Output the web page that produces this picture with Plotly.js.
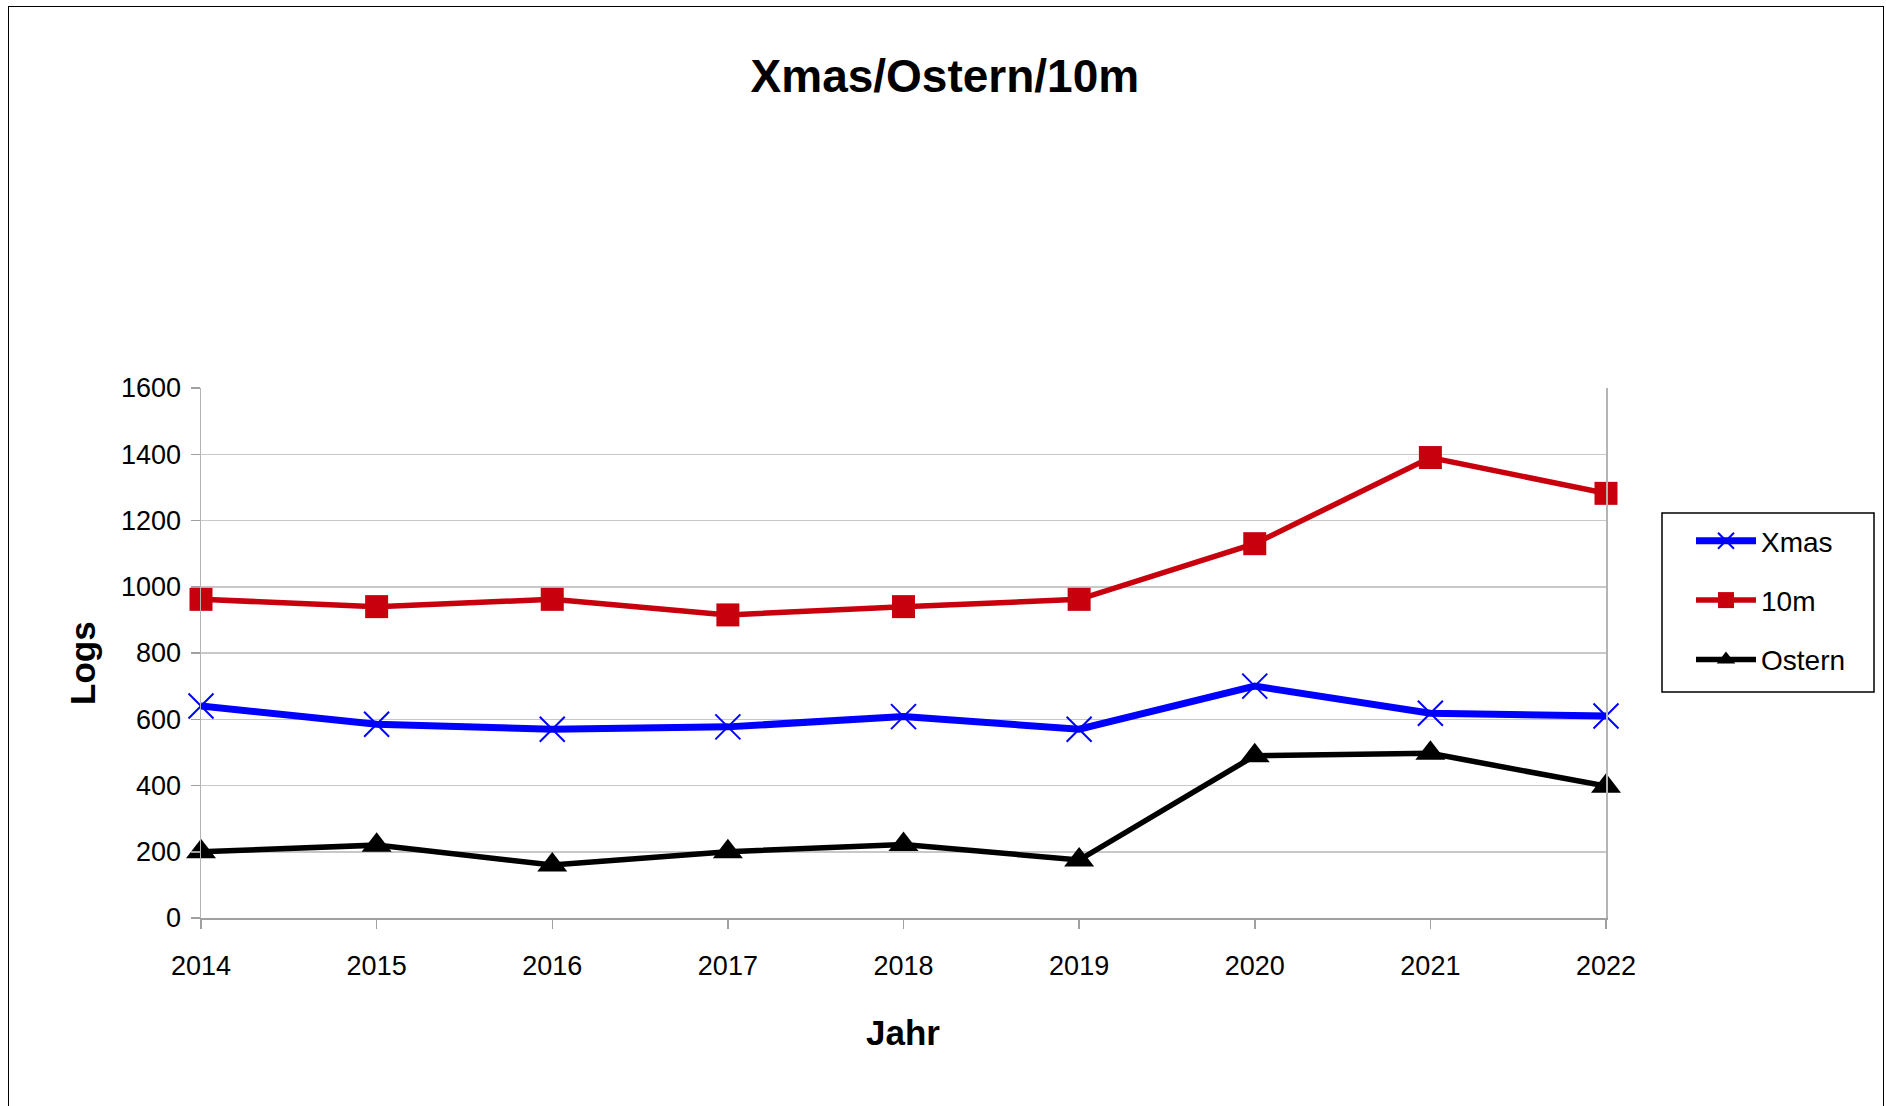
<!DOCTYPE html>
<html>
<head>
<meta charset="utf-8">
<script src="https://cdn.plot.ly/plotly-3.0.1.min.js"></script>
<style>
  html, body { margin: 0; padding: 0; background: #ffffff; }
  #chart { width: 1886px; height: 1106px; position: absolute; left: 0; top: 0; }
  #frame { position: absolute; left: 8px; top: 6px; width: 1874px; height: 1110px; border: 1px solid #000; pointer-events: none; }
</style>
</head>
<body>
<div id="chart"></div>
<div id="frame"></div>
<script>
const years = [2014, 2015, 2016, 2017, 2018, 2019, 2020, 2021, 2022];
const xmas = [640, 585, 570, 577, 608, 570, 700, 618, 610];
const zehnM = [962, 940, 962, 915, 940, 962, 1130, 1390, 1282];
const ostern = [200, 220, 160, 200, 222, 175, 490, 497, 398];
const yTicks = [0, 200, 400, 600, 800, 1000, 1200, 1400, 1600];

const fontFam = '"Liberation Sans", Arial, sans-serif';

// plot area in pixels (for converting legend box position to paper units)
const PL = 201, PR = 1606, PT = 388, PB = 918;
const px2x = v => (v - PL) / (PR - PL);
const px2y = v => (PB - v) / (PB - PT);

const traces = [
  { x: years, y: xmas, name: 'Xmas', legendgroup: 'a', mode: 'lines+markers', cliponaxis: false,
    line: { color: '#0000ff', width: 7 },
    marker: { symbol: 'x-thin-open', size: 25, color: '#0000ff', line: { color: '#0000ff', width: 2 } } },
  { x: years, y: zehnM, name: '10m', legendgroup: 'b', mode: 'lines+markers', cliponaxis: false,
    line: { color: '#c8000e', width: 5.5 },
    marker: { symbol: 'square', size: 23, color: '#c8000e' } },
  { x: years, y: ostern, name: 'Ostern', legendgroup: 'c', mode: 'lines+markers', cliponaxis: false,
    line: { color: '#000000', width: 5.5 },
    marker: { symbol: 'triangle-up', size: 26, color: '#000000' } }
];

const layout = {
  width: 1886, height: 1106,
  paper_bgcolor: '#ffffff', plot_bgcolor: '#ffffff',
  margin: { l: PL, r: 1886 - PR, t: PT, b: 1106 - PB },
  font: { family: fontFam, size: 27, color: '#000' },
  title: { text: '<b>Xmas/Ostern/10m</b>', font: { family: fontFam, size: 46, color: '#000' },
           xref: 'container', yref: 'container', x: 0.501, y: 0.931, xanchor: 'center', yanchor: 'middle' },
  xaxis: {
    range: [2014, 2022], tickvals: years, ticktext: years.map(String),
    showgrid: false, zeroline: false,
    showline: true, linecolor: '#a0a0a0', linewidth: 1.5,
    ticks: 'outside', ticklen: 9, tickcolor: '#a0a0a0', tickwidth: 1.5,
    ticklabelstandoff: 14,
    tickfont: { family: fontFam, size: 27, color: '#000' }
  },
  yaxis: {
    range: [0, 1600], tickvals: yTicks, ticktext: yTicks.map(String),
    showgrid: true, gridcolor: '#c8c8c8', gridwidth: 1.5, zeroline: false,
    showline: true, mirror: true, linecolor: '#b4b4b4', linewidth: 1.5,
    ticks: 'outside', ticklen: 9, tickcolor: '#a0a0a0', tickwidth: 1.5,
    ticklabelstandoff: 4,
    tickfont: { family: fontFam, size: 27, color: '#000' }
  },
  annotations: [
    { text: '<b>Jahr</b>', xref: 'paper', yref: 'paper', x: px2x(903), y: px2y(1032),
      xanchor: 'center', yanchor: 'middle', showarrow: false,
      font: { family: fontFam, size: 35, color: '#000' } },
    { text: '<b>Logs</b>', xref: 'paper', yref: 'paper', x: px2x(82), y: px2y(663),
      xanchor: 'center', yanchor: 'middle', showarrow: false, textangle: -90,
      font: { family: fontFam, size: 35, color: '#000' } }
  ],
  shapes: [
    { type: 'rect', xref: 'paper', yref: 'paper', x0: px2x(1662), x1: px2x(1874), y0: px2y(513), y1: px2y(692),
      line: { color: '#000', width: 1.5 }, fillcolor: 'rgba(0,0,0,0)' }
  ],
  showlegend: true,
  legend: {
    x: px2x(1691), y: px2y(516), xanchor: 'left', yanchor: 'top',
    borderwidth: 0, bgcolor: 'rgba(0,0,0,0)',
    font: { family: fontFam, size: 28, color: '#000' },
    traceorder: 'grouped', tracegroupgap: 20, itemwidth: 60
  }
};

Plotly.newPlot('chart', traces, layout, { displayModeBar: false, staticPlot: true });
</script>
</body>
</html>
